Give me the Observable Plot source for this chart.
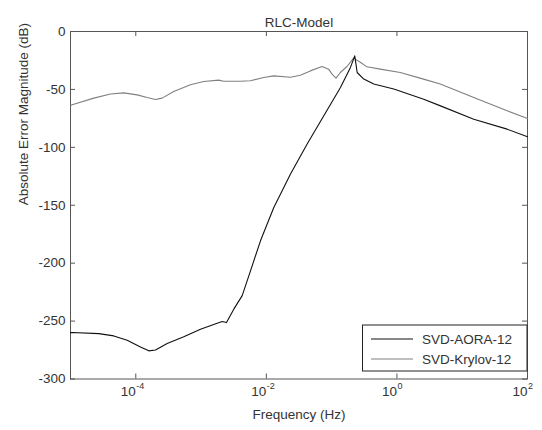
<!DOCTYPE html>
<html>
<head>
<meta charset="utf-8">
<script src="https://cdn.jsdelivr.net/npm/d3@7"></script>
<script src="https://cdn.jsdelivr.net/npm/@observablehq/plot@0.6"></script>
<style>
  html, body { margin: 0; padding: 0; background: #fff; }
  #chart { position: relative; width: 542px; height: 430px; }
</style>
</head>
<body>
<div id="chart"></div>
<script>
// ---- data ----
const title = "RLC-Model";
const xLabel = "Frequency (Hz)";
const yLabel = "Absolute Error Magnitude (dB)";
const seriesNames = ["SVD-AORA-12", "SVD-Krylov-12"];
const seriesColors = ["#111111", "#808080"];

// log10 of frequency (Hz) and error magnitude (dB)
const aoraLogF = [-5.0, -4.974, -4.567, -4.337, -4.132, -3.928, -3.801, -3.698, -3.519, -3.265, -3.009, -2.753, -2.677, -2.611, -2.499, -2.370, -2.243, -2.090, -1.886, -1.630, -1.375, -1.120, -0.865, -0.712, -0.646, -0.609, -0.508, -0.355, -0.048, 0.411, 0.667, 1.177, 1.688, 2.0];
const aoraDb   = [-260, -259.9, -260.8, -262.8, -266.5, -272.3, -275.7, -274.9, -269.4, -263.6, -257.0, -251.8, -250.4, -251.3, -239.7, -228.0, -206.6, -180.7, -152.0, -123.0, -97.2, -72.8, -48.4, -31.0, -21.0, -35.4, -41.1, -45.4, -49.7, -58.4, -64.2, -75.7, -84.3, -90.9];

const krylovLogF = [-5.0, -4.974, -4.643, -4.388, -4.184, -3.979, -3.826, -3.699, -3.596, -3.419, -3.163, -2.960, -2.730, -2.654, -2.398, -2.245, -2.041, -1.888, -1.632, -1.479, -1.326, -1.147, -1.046, -0.994, -0.933, -0.867, -0.765, -0.664, -0.561, -0.459, -0.255, 0.051, 0.408, 0.664, 1.177, 1.688, 2.0];
const krylovDb   = [-64.0, -63.3, -57.5, -54.0, -53.0, -54.7, -57.0, -58.7, -57.5, -51.8, -46.0, -43.2, -42.0, -43.0, -43.0, -42.5, -39.7, -38.3, -39.5, -37.7, -34.0, -30.2, -32.5, -36.8, -40.3, -35.4, -30.2, -23.0, -26.5, -30.5, -32.5, -35.4, -41.1, -45.4, -57.0, -68.5, -75.1];

const xTickExponents = [-4, -2, 0, 2];
const yTicks = [0, -50, -100, -150, -200, -250, -300];

// ---- build tables ----
const aora = aoraLogF.map((e, i) => ({f: 10 ** e, db: aoraDb[i]}));
const krylov = krylovLogF.map((e, i) => ({f: 10 ** e, db: krylovDb[i]}));
const xTicks = xTickExponents.map(e => ({v: 10 ** e, e}));

const W = 542, H = 430;
const mL = 70, mR = 15, mT = 31, mB = 51.5;
const plotW = W - mL - mR, plotH = H - mT - mB;
const axisColor = "#555";
const textColor = "#333";
const font = "'Liberation Sans', Arial, Helvetica, sans-serif";
const tick = 5;

const chart = Plot.plot({
  width: W,
  height: H,
  marginLeft: mL,
  marginRight: mR,
  marginTop: mT,
  marginBottom: mB,
  style: {fontFamily: font, fontSize: "13.5px", color: textColor, background: "#fff", overflow: "visible"},
  x: {type: "log", domain: [1e-5, 1e2], axis: null},
  y: {domain: [-300, 0], axis: null},
  marks: [
    Plot.frame({stroke: axisColor, strokeWidth: 1}),
    // inward ticks: bottom & top
    Plot.ruleX(xTicks, {x: "v", stroke: axisColor, insetTop: plotH - tick}),
    Plot.ruleX(xTicks, {x: "v", stroke: axisColor, insetBottom: plotH - tick}),
    // inward ticks: left & right
    Plot.ruleY(yTicks, {y: d => d, stroke: axisColor, insetRight: plotW - tick}),
    Plot.ruleY(yTicks, {y: d => d, stroke: axisColor, insetLeft: plotW - tick}),
    // curves
    Plot.line(krylov, {x: "f", y: "db", stroke: seriesColors[1], strokeWidth: 1.1}),
    Plot.line(aora, {x: "f", y: "db", stroke: seriesColors[0], strokeWidth: 1.1}),
    // y tick labels
    Plot.text(yTicks, {y: d => d, text: d => String(d), frameAnchor: "left", dx: -5, textAnchor: "end", fill: textColor, fontSize: 13.5}),
    // x tick labels: base "10" and exponent
    Plot.text(xTicks, {x: "v", text: () => "10", frameAnchor: "bottom", dy: 17, textAnchor: "end", fill: textColor, fontSize: 13.5}),
    Plot.text(xTicks, {x: "v", text: d => String(d.e), frameAnchor: "bottom", dy: 9.5, dx: 0.5, textAnchor: "start", fill: textColor, fontSize: 9}),
    // title and axis labels
    Plot.text([title], {frameAnchor: "top", dy: -14.5, fill: textColor, fontSize: 13.5}),
    Plot.text([xLabel], {frameAnchor: "bottom", dy: 39.5, fill: textColor, fontSize: 13.5}),
    Plot.text([yLabel], {frameAnchor: "left", dx: -47, rotate: -90, fill: textColor, fontSize: 13.5})
  ]
});

// ---- legend (drawn into the same SVG) ----
const svg = d3.select(chart);
const lg = svg.append("g").attr("font-family", font).attr("font-size", 13.5).attr("text-anchor", "start");
const lx = 362.5, ly = 325, lw = W - mR - lx, lh = 46;
lg.append("rect").attr("x", lx).attr("y", ly).attr("width", lw).attr("height", lh)
  .attr("fill", "#fff").attr("stroke", "#222").attr("stroke-width", 1);
seriesNames.forEach((name, i) => {
  const cy = ly + 14 + i * 20;
  lg.append("line").attr("x1", lx + 8.5).attr("x2", lx + 50.5).attr("y1", cy).attr("y2", cy)
    .attr("stroke", seriesColors[i]).attr("stroke-width", 1.1);
  lg.append("text").attr("x", lx + 59.5).attr("y", cy).attr("dy", "0.35em")
    .attr("text-anchor", "start").attr("fill", textColor).text(name);
});

document.getElementById("chart").appendChild(chart);
</script>
</body>
</html>
